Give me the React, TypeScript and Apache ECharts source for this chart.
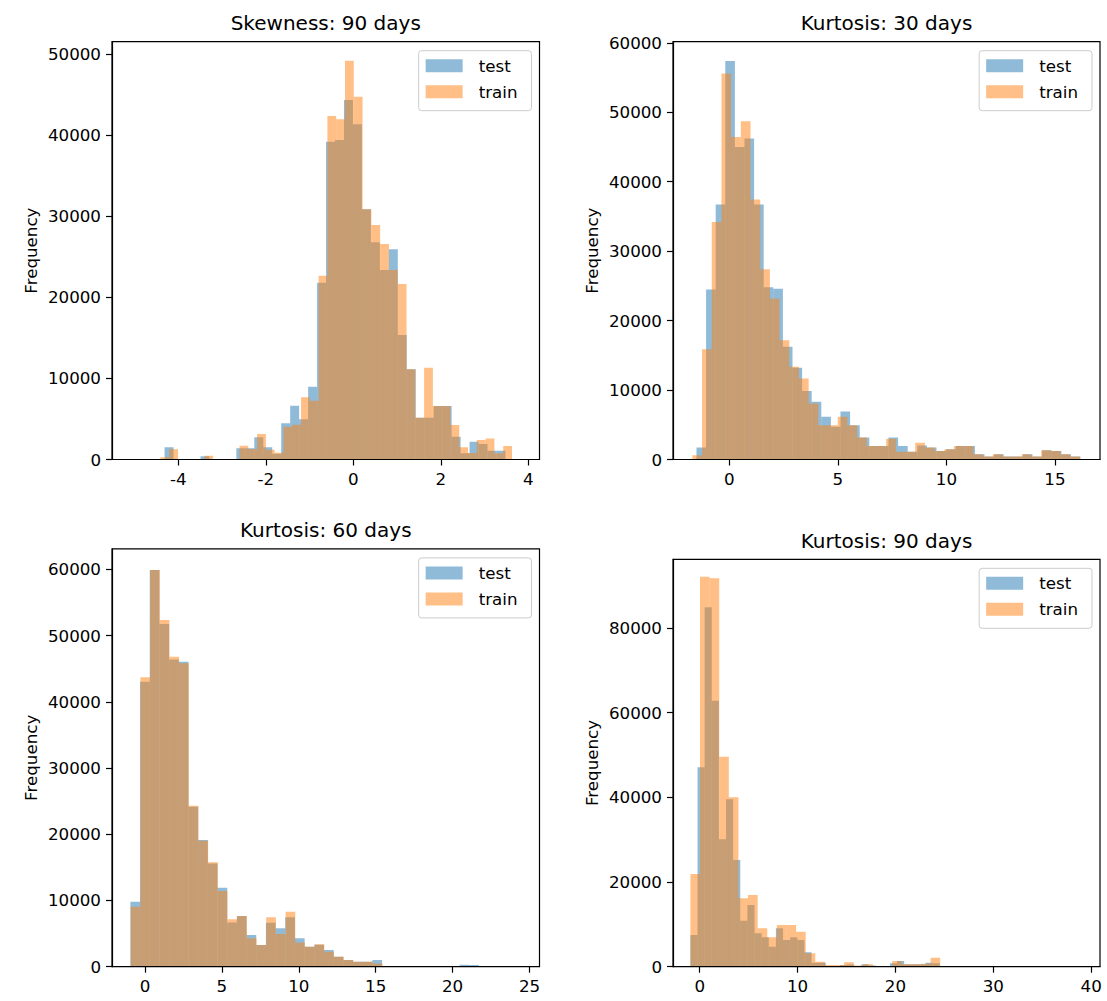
import React, { useEffect, useRef } from 'react';
import * as echarts from 'echarts';

const FONT = 'DejaVu Sans';
const TEST_COLOR = 'rgba(31,119,180,0.5)';
const TRAIN_COLOR = 'rgba(255,127,14,0.5)';

const titles = ['Skewness: 90 days', 'Kurtosis: 30 days', 'Kurtosis: 60 days', 'Kurtosis: 90 days'];
const seriesNames = ['test', 'train'];

// Panel 1: Skewness 90 days (equal-width bins: first-bin start, bin width, counts)
const p1TestStart = -4.5176;
const p1TestWidth = 0.205;
const p1TestCounts = [0, 1500, 0, 0, 0, 400, 0, 0, 0, 1400, 1400, 2730, 1500, 700, 4460, 6640, 4960, 8980, 21800, 39190, 39390, 44330, 41330, 30850, 26780, 23370, 25920, 15350, 11120, 5150, 5150, 6600, 6600, 2820, 760, 2200, 1900, 1080, 1080, 0];
const p1TrainStart = -4.6095;
const p1TrainWidth = 0.2009;
const p1TrainCounts = [0, 270, 1260, 0, 0, 0, 450, 0, 0, 0, 1700, 1300, 3140, 1200, 840, 4050, 4300, 7670, 7250, 22660, 42350, 41940, 49180, 44740, 30850, 28920, 26570, 23370, 21640, 11120, 5150, 11320, 6600, 6600, 4250, 1500, 800, 2400, 2600, 760, 1660];

// Panel 2: Kurtosis 30 days
const p2TestStart = -1.511;
const p2TestWidth = 0.4422;
const p2TestCounts = [1730, 24480, 36720, 57400, 45020, 46220, 36720, 24800, 24600, 16220, 13200, 9880, 8300, 6140, 4700, 6900, 4940, 3160, 1960, 1960, 3170, 1960, 1100, 2000, 1730, 1240, 1490, 1960, 1960, 760, 430, 760, 430, 430, 760, 430, 1340, 1240, 760, 430];
const p2TrainStart = -1.7;
const p2TrainWidth = 0.4463;
const p2TrainCounts = [620, 15880, 34220, 55580, 46460, 48720, 37440, 27400, 23180, 17180, 13340, 11660, 8060, 4940, 4940, 6140, 4940, 3170, 1960, 1960, 3000, 1100, 1100, 2400, 1730, 1240, 1490, 1960, 1960, 760, 430, 760, 430, 430, 760, 430, 1340, 1240, 760, 430];

// Panel 3: Kurtosis 60 days
const p3TestStart = -0.95;
const p3TestWidth = 0.6294;
const p3TestCounts = [9820, 43030, 59900, 51750, 46400, 46050, 24160, 19130, 15600, 11930, 6660, 7650, 4790, 3270, 6650, 5800, 7450, 4290, 3020, 3300, 2520, 1510, 1010, 760, 760, 1010, 0, 0, 0, 0, 0, 0, 0, 0, 300, 250, 0, 0, 0, 0];
const p3TrainStart = -0.93;
const p3TrainWidth = 0.6294;
const p3TrainCounts = [9060, 43700, 59900, 52350, 46810, 45800, 24300, 19000, 15770, 11430, 7160, 7650, 4280, 3270, 7450, 4950, 8300, 3640, 3020, 3380, 2260, 1510, 1010, 760, 760, 500, 0, 0, 0, 0, 0, 0, 0, 0, 100, 100, 0, 0, 0, 0];

// Panel 4: Kurtosis 90 days
const p4TestStart = -0.951;
const p4TestWidth = 0.728;
const p4TestCounts = [7490, 47100, 84890, 62830, 30090, 39540, 25200, 10870, 14570, 7890, 6940, 4720, 9070, 6300, 6940, 6300, 3400, 940, 940, 160, 160, 400, 500, 160, 560, 300, 160, 160, 800, 1340, 560, 560, 560, 940, 800, 160, 0, 0, 0, 20];
const p4TrainStart = -0.951;
const p4TrainWidth = 0.9816;
const p4TrainCounts = [21900, 92120, 91740, 49600, 40010, 16160, 16940, 9070, 6940, 9850, 9850, 8270, 3160, 1180, 400, 400, 1040, 300, 560, 160, 160, 1340, 560, 560, 700, 2130, 160, 0, 0, 0, 0, 0, 0, 0, 0, 0, 0, 0, 0, 20];

// Axis ranges and tick labels
const xRanges = [[-5.515, 4.256], [-2.593, 17.075], [-2.146, 25.65], [-2.73, 40.9]];
const yMaxes = [51516, 60167, 63083, 96245];
const xTicks = [[-4, -2, 0, 2, 4], [0, 5, 10, 15], [0, 5, 10, 15, 20, 25], [0, 10, 20, 30, 40]];
const yTicks = [
  [0, 10000, 20000, 30000, 40000, 50000],
  [0, 10000, 20000, 30000, 40000, 50000, 60000],
  [0, 10000, 20000, 30000, 40000, 50000, 60000],
  [0, 20000, 40000, 60000, 80000],
];

const hists = [
  [[p1TestStart, p1TestWidth, p1TestCounts], [p1TrainStart, p1TrainWidth, p1TrainCounts]],
  [[p2TestStart, p2TestWidth, p2TestCounts], [p2TrainStart, p2TrainWidth, p2TrainCounts]],
  [[p3TestStart, p3TestWidth, p3TestCounts], [p3TrainStart, p3TrainWidth, p3TrainCounts]],
  [[p4TestStart, p4TestWidth, p4TestCounts], [p4TrainStart, p4TrainWidth, p4TrainCounts]],
] as [number, number, number[]][][];

// Layout (pixels)
const layout = [
  { left: 112, top: 41.7, width: 427.5, height: 417.8, ylabelX: 31 },
  { left: 673, top: 41.7, width: 427, height: 417.8, ylabelX: 592 },
  { left: 112, top: 548.9, width: 427.5, height: 417.8, ylabelX: 31 },
  { left: 673, top: 559.3, width: 427, height: 407.4, ylabelX: 592 },
];

const TICK_FS = 16.7;
const TITLE_FS = 20;

function toBins(start: number, width: number, counts: number[]) {
  return counts.map((c, i) => [start + i * width, start + (i + 1) * width, c]);
}

function makeRender(color: string) {
  return (params: any, api: any) => {
    const x0 = api.value(0);
    const x1 = api.value(1);
    const v = api.value(2);
    if (!v) return null;
    const a = api.coord([x0, v]);
    const b = api.coord([x1, 0]);
    return {
      type: 'rect',
      shape: { x: a[0], y: a[1], width: b[0] - a[0], height: b[1] - a[1] },
      style: { fill: color },
    };
  };
}

export default function App() {
  const ref = useRef<HTMLDivElement>(null);
  useEffect(() => {
    if (!ref.current) return;
    const chart = echarts.init(ref.current, undefined, { renderer: 'svg' });
    const fmt = (v: number) => String(v);
    const labelStyle = { fontSize: TICK_FS, fontFamily: FONT, color: '#000' };

    const grid = layout.map((l) => ({
      left: l.left, top: l.top, width: l.width, height: l.height,
      show: true, borderColor: '#000', borderWidth: 1.2, backgroundColor: 'transparent',
    }));

    const xAxis = layout.map((l, i) => ({
      type: 'value', gridIndex: i, min: xRanges[i][0], max: xRanges[i][1],
      splitLine: { show: false },
      axisLine: { show: true, onZero: false, lineStyle: { color: '#000', width: 1.2 } },
      axisTick: { show: true, customValues: xTicks[i], length: 6, lineStyle: { color: '#000', width: 1.2 } },
      axisLabel: { customValues: xTicks[i], margin: 11, formatter: fmt, ...labelStyle },
      z: 10,
    }));

    const yAxis = layout.map((l, i) => ({
      type: 'value', gridIndex: i, min: 0, max: yMaxes[i],
      splitLine: { show: false },
      axisLine: { show: true, onZero: false, lineStyle: { color: '#000', width: 1.2 } },
      axisTick: { show: true, customValues: yTicks[i], length: 6, lineStyle: { color: '#000', width: 1.2 } },
      axisLabel: { customValues: yTicks[i], margin: 11, formatter: fmt, ...labelStyle },
      z: 10,
    }));

    const series: any[] = [];
    hists.forEach((pair, i) => {
      pair.forEach(([start, width, counts], j) => {
        const color = j === 0 ? TEST_COLOR : TRAIN_COLOR;
        series.push({
          type: 'custom',
          name: seriesNames[j],
          xAxisIndex: i,
          yAxisIndex: i,
          data: toBins(start, width, counts),
          encode: { x: [0, 1], y: 2 },
          renderItem: makeRender(color),
          itemStyle: { color },
          clip: true,
          z: 2 + j,
        });
      });
    });

    const legend = layout.map((l) => ({
      orient: 'vertical',
      right: 1107 - (l.left + l.width - 8),
      top: l.top + 9,
      data: seriesNames,
      icon: 'rect',
      itemWidth: 37,
      itemHeight: 13,
      itemGap: 6,
      itemStyle: { borderWidth: 0 },
      selectedMode: false,
      padding: [5, 14, 9, 7],
      backgroundColor: 'rgba(255,255,255,0.8)',
      borderColor: '#cccccc',
      borderWidth: 1,
      borderRadius: 3,
      textStyle: { fontSize: TICK_FS, fontFamily: FONT, color: '#000', lineHeight: 20, padding: [0, 0, 0, 11] },
    }));

    const graphic: any[] = [];
    layout.forEach((l, i) => {
      graphic.push({
        type: 'text',
        x: l.left + l.width / 2,
        y: l.top - 11.7 - 0.346 * TITLE_FS,
        style: {
          text: titles[i], fontSize: TITLE_FS, fontFamily: FONT, fill: '#000',
          align: 'center', verticalAlign: 'middle', textAlign: 'center', textVerticalAlign: 'middle',
        },
      });
      graphic.push({
        type: 'text',
        x: l.ylabelX,
        y: l.top + l.height / 2,
        rotation: Math.PI / 2,
        style: {
          text: 'Frequency', fontSize: TICK_FS, fontFamily: FONT, fill: '#000',
          align: 'center', verticalAlign: 'middle', textAlign: 'center', textVerticalAlign: 'middle',
        },
      });
    });

    chart.setOption({
      animation: false,
      backgroundColor: '#ffffff',
      grid, xAxis, yAxis, series, legend, graphic,
      tooltip: { show: false },
    });
    return () => chart.dispose();
  }, []);
  return (
    <div
      ref={ref}
      style={{ position: 'absolute', left: 0, top: 0, width: 1107, height: 1001, background: '#fff' }}
    />
  );
}
